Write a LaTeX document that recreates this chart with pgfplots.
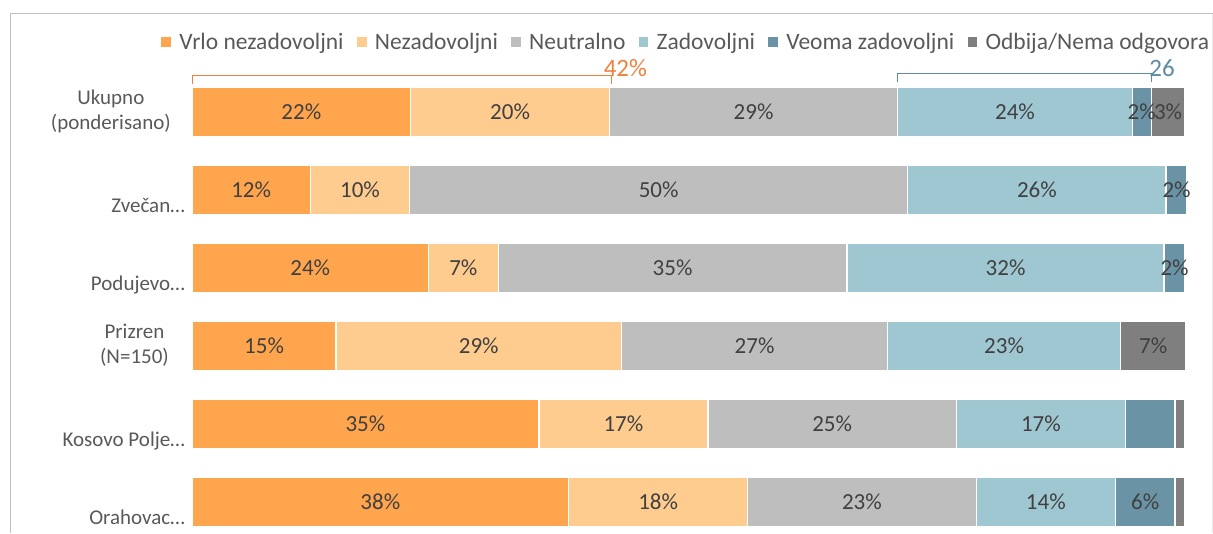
\documentclass[border=0pt]{standalone}
\usepackage{pgfplots}
\pgfplotsset{compat=1.18}
\usepackage{pgfplotstable}
\usepackage{fontspec}
\setmainfont{Carlito}
\setlength{\tabcolsep}{0pt}

\definecolor{c1}{HTML}{FFA54D}
\definecolor{c2}{HTML}{FFCC90}
\definecolor{c3}{HTML}{BEBEBE}
\definecolor{c4}{HTML}{9FC7D1}
\definecolor{c5}{HTML}{6A93A5}
\definecolor{c6}{HTML}{7F7F7F}
\definecolor{valtxt}{HTML}{404040}
\definecolor{cattxt}{HTML}{595959}
\definecolor{orangetxt}{HTML}{F0803C}
\definecolor{bluetxt}{HTML}{5F8BA0}
\definecolor{frame}{HTML}{BFBFBF}
\definecolor{framelight}{HTML}{E8E8E8}

\pgfplotstableread{
y v1 v2 v3 v4 v5 v6 l1 l2 l3 l4 l5 l6
0 22.0 20.0 29.0 23.6 1.9 3.4 22 20 29 24 2 3
1 11.9 10.0 50.1 26.0 2.1 0 12 10 50 26 2 n
2 23.8 7.0 35.1 31.9 2.1 0 24 7 35 32 2 n
3 14.5 28.7 26.8 23.4 0 6.6 15 29 27 23 n 7
4 34.9 17.0 25.0 17.0 5.0 1.0 35 17 25 17 n n
5 37.9 18.0 23.0 14.0 6.0 1.0 38 18 23 14 6 n
}\datatable

\def\nolab{n}
\newcommand\seg[2]{%
  \addplot[fill=#2] table[x=v#1, y=y, meta=l#1]{\datatable};}

\begin{document}
\begin{tikzpicture}
\useasboundingbox (0,0) rectangle (1213pt,-533pt);
\draw[framelight, line width=1pt] (1212.5pt,-13pt) -- (1212.5pt,-533pt);
\draw[frame, line width=1pt] (10pt,-533pt) -- (10pt,-13pt) -- (1212.5pt,-13pt);
\begin{axis}[
  at={(192pt,-73pt)}, anchor=north west,
  scale only axis, width=994pt, height=456.3pt,
  xmin=0, xmax=100, ymin=-0.5, ymax=5.35, y dir=reverse,
  axis line style={draw=none},
  clip=false,
  xbar stacked, bar width=50pt,
  every axis plot/.append style={draw=white, line width=1.3pt},
  xtick=\empty,
  ytick={0,...,5},
  yticklabels={
    {\begin{tabular}{c}Ukupno\\(ponderisano)\end{tabular}\kern14pt},
    {\begin{tabular}{r}\mbox{}\\[10pt]Zvečan…\end{tabular}},
    {\begin{tabular}{r}\mbox{}\\[10pt]Podujevo…\end{tabular}},
    {\begin{tabular}{c}Prizren\\(N=150)\end{tabular}\kern16pt},
    {\begin{tabular}{r}\mbox{}\\[10pt]Kosovo Polje…\end{tabular}},
    {\begin{tabular}{r}\mbox{}\\[10pt]Orahovac…\end{tabular}}},
  yticklabel style={anchor=east, inner sep=0pt, xshift=-7pt,
     font=\fontsize{21}{25}\selectfont, text=cattxt},
  major tick length=0pt,
  point meta=explicit symbolic,
  nodes near coords={\edef\tmp{\pgfplotspointmeta}\ifx\tmp\nolab\else\tmp\%\fi},
  every node near coord/.append style={anchor=center, inner sep=0pt,
     font=\fontsize{23}{26}\selectfont, text=valtxt},
  legend columns=6,
  legend style={at={(-0.0322,1.068)}, anchor=west, draw=none, fill=none,
     inner sep=0pt, font=\fontsize{23.5}{26}\selectfont, text=cattxt,
     nodes={inner sep=2pt},
     /tikz/every even column/.append style={column sep=10pt}},
  legend image code/.code={\fill[#1] (0pt,-5.5pt) rectangle (11pt,5.5pt); \path (16pt,0pt);},
]
\seg{1}{c1}
\seg{2}{c2}
\seg{3}{c3}
\seg{4}{c4}
\seg{5}{c5}
\seg{6}{c6}
\legend{Vrlo nezadovoljni, Nezadovoljni, Neutralno, Zadovoljni, Veoma zadovoljni, Odbija/Nema odgovora}

% brackets
\draw[orangetxt, line width=1pt] (axis cs:0.05,-0.359) -- (axis cs:0.05,-0.474) -- (axis cs:42.2,-0.474) -- (axis cs:42.2,-0.359);
\node[text=orangetxt, font=\fontsize{25}{28}\selectfont, inner sep=0pt] at (axis cs:43.6,-0.56) {42\%};
\draw[bluetxt, line width=1pt] (axis cs:71.0,-0.385) -- (axis cs:71.0,-0.5) -- (axis cs:96.5,-0.5) -- (axis cs:96.5,-0.385);
\node[text=bluetxt, font=\fontsize{25}{28}\selectfont, inner sep=0pt] at (axis cs:97.6,-0.56) {26};
\node[text=bluetxt, font=\fontsize{25}{28}\selectfont, inner sep=0pt] at (axis cs:97.2,-0.13) {\%};
\end{axis}
\end{tikzpicture}
\end{document}
